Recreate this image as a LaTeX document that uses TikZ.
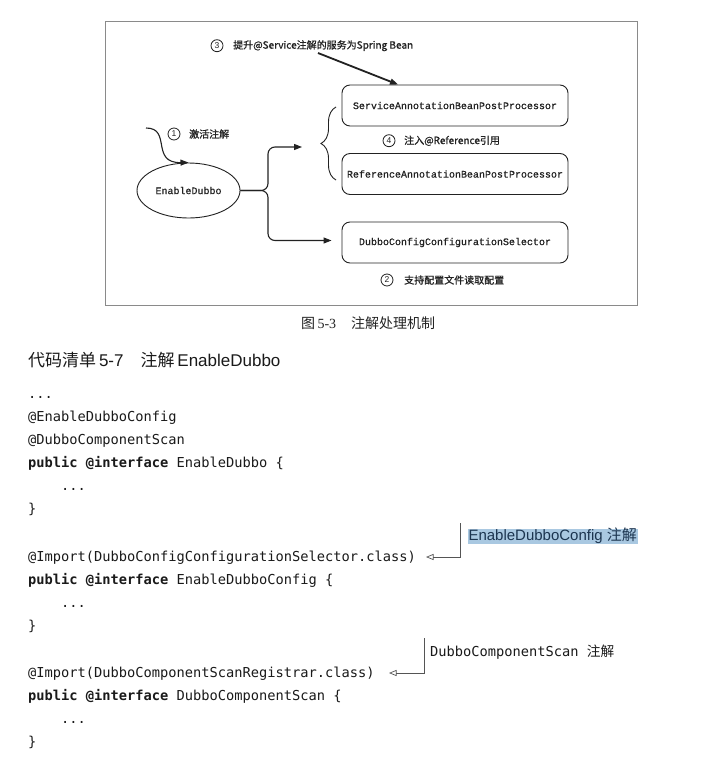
\documentclass[tikz,border=0pt]{standalone}
\usepackage{fontspec}
\setmainfont{Liberation Sans}
\newfontfamily\cjk{Noto Sans CJK SC}
\newfontfamily\cjkb[FakeBold=0.9]{Noto Sans CJK SC}
\newfontfamily\codefont{DejaVu Sans Mono}
\newfontfamily\boxfont[FakeBold=0.6]{Liberation Mono}
\newfontfamily\seriffont{Liberation Serif}
\usetikzlibrary{arrows.meta,shapes.geometric,decorations.pathreplacing}
\definecolor{ink}{HTML}{222222}
\definecolor{framegray}{HTML}{8A8A8A}
\definecolor{hlblue}{HTML}{A9C8E1}
\definecolor{hltext}{HTML}{1C3550}
\definecolor{codeink}{HTML}{1A1A1A}
\definecolor{pointer}{HTML}{555555}
\tikzset{
  procbox/.style={draw=ink, line width=0.9pt, rounded corners=8pt, minimum width=226pt, minimum height=41pt, inner sep=0pt, font=\boxfont\fontsize{10}{12}\selectfont, text=ink},
  entry/.style={draw=ink, line width=0.9pt, ellipse, minimum width=103pt, minimum height=55pt, inner sep=0pt, font=\boxfont\fontsize{10}{12}\selectfont, text=ink},
  conn/.style={draw=ink, line width=1.1pt, -{Triangle[length=8pt,width=6pt]}},
  plainline/.style={draw=ink, line width=1.1pt},
  numcirc/.style={circle, draw=ink, line width=0.8pt, minimum size=12pt, inner sep=0pt, font=\fontsize{8.5}{8.5}\selectfont, text=ink},
  steplabel/.style={anchor=west, inner sep=0pt, font=\cjkb\fontsize{10}{12}\selectfont, text=ink},
  codeline/.style={anchor=base west, inner sep=0pt, font=\codefont\fontsize{13.7}{16}\selectfont, text=codeink},
  ptr/.style={draw=pointer, line width=0.7pt, -{Triangle[open,length=7.5pt,width=6pt]}},
}
\begin{document}
\begin{tikzpicture}[x=1pt,y=-1pt]
\useasboundingbox (0,0) rectangle (709,761);
\fill[white] (0,0) rectangle (709,761);
% frame
\node[draw=framegray, line width=0.8pt, minimum width=532pt, minimum height=284pt, inner sep=0pt] (frame) at (371,163) {};
% boxes
\node[procbox] (svc) at (455,105.5) {ServiceAnnotationBeanPostProcessor};
\node[procbox] (refb) at (455,174) {ReferenceAnnotationBeanPostProcessor};
\node[procbox] (sel) at (455,242.5) {DubboConfigConfigurationSelector};
\node[entry] (ell) at (188.5,190.5) {EnableDubbo};
% labels
\node[numcirc] (n3) at (217,45.7) {3};
\node[steplabel] (l3) at (233,45.7) {提升@Service注解的服务为Spring Bean};
\node[numcirc] (n1) at (174,134) {1};
\node[steplabel] (l1) at (189,134) {激活注解};
\node[numcirc] (n4) at (389,140.7) {4};
\node[steplabel] (l4) at (404,140.7) {注入@Reference引用};
\node[numcirc] (n2) at (387,280) {2};
\node[steplabel] (l2) at (404,280) {支持配置文件读取配置};
% connectors
\coordinate (a3s) at (318,53);
\draw[conn, line width=1.8pt] (a3s) -- ([xshift=-57pt]svc.north);
\coordinate (in1) at (146,128);
\draw[conn] (in1) .. controls (172,128) and (150,163) .. (ell.north);
\coordinate (fork) at (268,190.5);
\coordinate (b1) at (302,147);
\draw[conn, rounded corners=7pt] (ell.east) -- (fork) |- (b1);
\draw[conn, rounded corners=7pt] (ell.east) -- (fork) |- ([xshift=-10pt,yshift=2pt]sel.west);
\coordinate (br1) at (336,180);
\coordinate (br2) at (336,107);
\draw[plainline, line width=0.9pt, decorate, decoration={brace, amplitude=15pt}] (br1) -- (br2);
% caption
\node[anchor=west, inner sep=0pt, text=ink, font=\fontsize{14}{16}\selectfont] (cap) at (301,323) {{\cjk 图}\,{\seriffont 5-3}\hspace{15pt}{\cjk 注解处理机制}};
% header
\node[anchor=west, inner sep=0pt, text=codeink, font=\fontsize{17}{20}\selectfont] (hdr) at (28,360) {{\cjk 代码清单}\,5-7\hspace{17pt}{\cjk 注解}\,EnableDubbo};
% code
\node[codeline] (c1) at (28,398) {...};
\node[codeline] (c2) at (28,421) {@EnableDubboConfig};
\node[codeline] (c3) at (28,444) {@DubboComponentScan};
\node[codeline] (c4) at (28,467) {\textbf{public @interface} EnableDubbo \{};
\node[codeline] (c5) at (28,490) {\hspace*{32.9pt}...};
\node[codeline] (c6) at (28,513) {\}};
\node[codeline] (c7) at (28,561) {@Import(DubboConfigConfigurationSelector.class)};
\node[codeline] (c8) at (28,584) {\textbf{public @interface} EnableDubboConfig \{};
\node[codeline] (c9) at (28,607) {\hspace*{32.9pt}...};
\node[codeline] (c10) at (28,630) {\}};
\node[codeline] (c11) at (28,677) {@Import(DubboComponentScanRegistrar.class)};
\node[codeline] (c12) at (28,700) {\textbf{public @interface} DubboComponentScan \{};
\node[codeline] (c13) at (28,723) {\hspace*{32.9pt}...};
\node[codeline] (c14) at (28,746) {\}};
% pointers
\node[anchor=west, fill=hlblue, inner xsep=0.8pt, inner ysep=0.5pt, text height=11pt, text depth=3.5pt, text=hltext, font=\fontsize{15}{17}\selectfont] (hl) at (467.5,536.5) {EnableDubboConfig {\cjk 注解}};
\coordinate (p1s) at (460,523);
\coordinate (t1) at (426,557);
\draw[ptr] (p1s) |- (t1);
\node[anchor=west, inner sep=0pt, text=codeink, font=\codefont\fontsize{13.7}{16}\selectfont] (dl) at (430,652) {DubboComponentScan {\cjk 注解}};
\coordinate (p2s) at (424,638);
\coordinate (t2) at (389,673);
\draw[ptr] (p2s) |- (t2);
\end{tikzpicture}
\end{document}
